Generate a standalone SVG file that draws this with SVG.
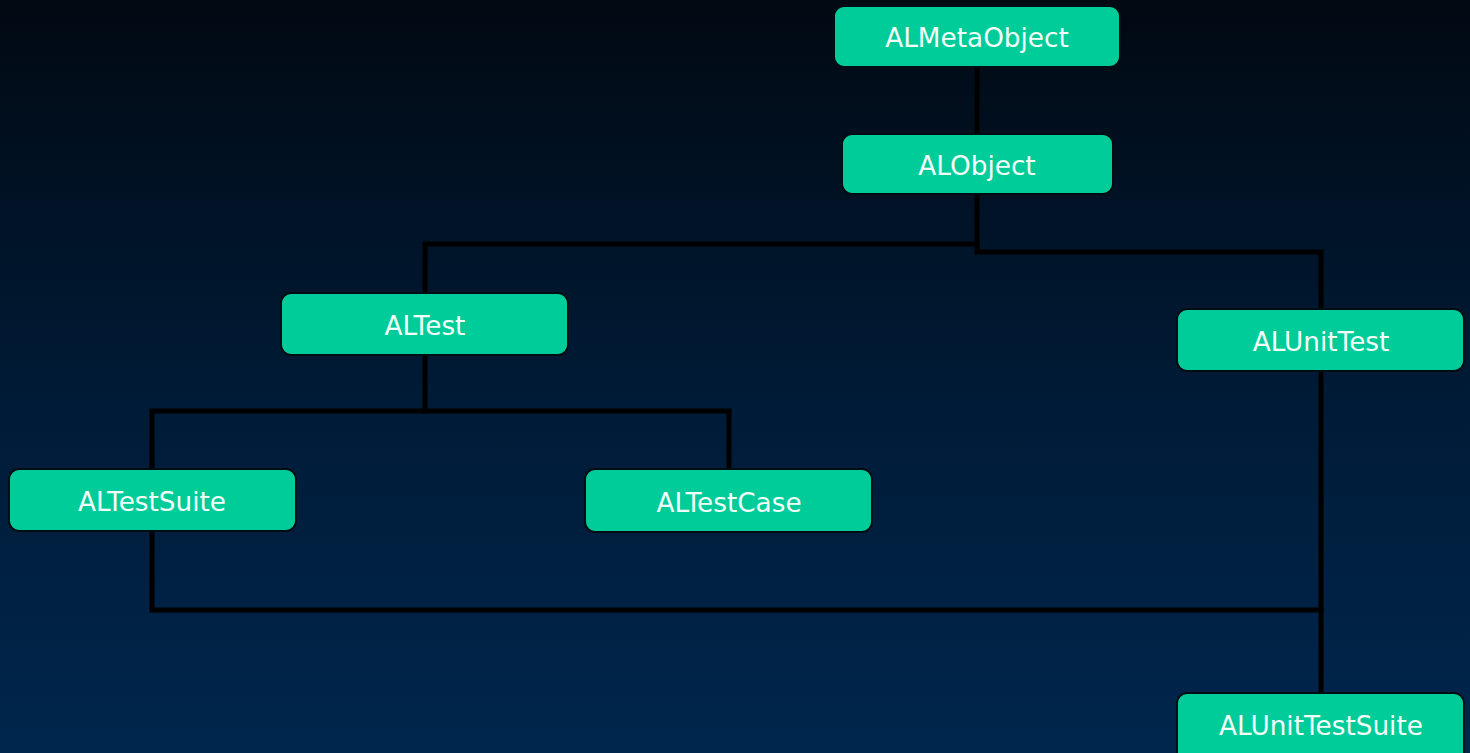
<svg xmlns="http://www.w3.org/2000/svg" width="1470" height="753" viewBox="0 0 1470 753">
  <defs>
    <linearGradient id="bg" x1="0" y1="0" x2="0" y2="1">
      <stop offset="0" stop-color="#010912"/>
      <stop offset="0.5" stop-color="#001a35"/>
      <stop offset="1" stop-color="#00264d"/>
    </linearGradient>
    <style>
      .node rect { fill: #00cc99; stroke: #020c14; stroke-width: 2; }
      .node text { fill: #f4fffa; font-family: "DejaVu Sans", Verdana, sans-serif; font-size: 26.3px; text-anchor: middle; }
      .links path { fill: none; stroke: #000000; stroke-width: 5; stroke-linejoin: miter; stroke-linecap: square; }
    </style>
  </defs>

  <rect x="0" y="0" width="1470" height="753" fill="url(#bg)"/>

  <!-- connectors: inheritance tree -->
  <g class="links">
    <path d="M977 67 V134"/>
    <path d="M977 194 V244 H425 V293"/>
    <path d="M977 244 V252 H1321 V309"/>
    <path d="M425 355 V411 H152 V469"/>
    <path d="M425 411 H729 V469"/>
    <path d="M152 531 V610 H1321"/>
    <path d="M1321 371 V693"/>
  </g>

  <g id="node-almetaobject" class="node">
    <rect x="834" y="6" width="286" height="61" rx="10"/>
    <text x="977" y="47">ALMetaObject</text>
  </g>
  <g id="node-alobject" class="node">
    <rect x="842" y="134" width="271" height="60" rx="10"/>
    <text x="977" y="175">ALObject</text>
  </g>
  <g id="node-altest" class="node">
    <rect x="281" y="293" width="287" height="62" rx="10"/>
    <text x="425" y="335">ALTest</text>
  </g>
  <g id="node-alunittest" class="node">
    <rect x="1177" y="309" width="287" height="62" rx="10"/>
    <text x="1321" y="351">ALUnitTest</text>
  </g>
  <g id="node-altestsuite" class="node">
    <rect x="9" y="469" width="287" height="62" rx="10"/>
    <text x="152" y="511">ALTestSuite</text>
  </g>
  <g id="node-altestcase" class="node">
    <rect x="585" y="469" width="287" height="63" rx="10"/>
    <text x="729" y="512">ALTestCase</text>
  </g>
  <g id="node-alunittestsuite" class="node">
    <rect x="1177" y="693" width="287" height="70" rx="10"/>
    <text x="1321" y="735">ALUnitTestSuite</text>
  </g>
</svg>
